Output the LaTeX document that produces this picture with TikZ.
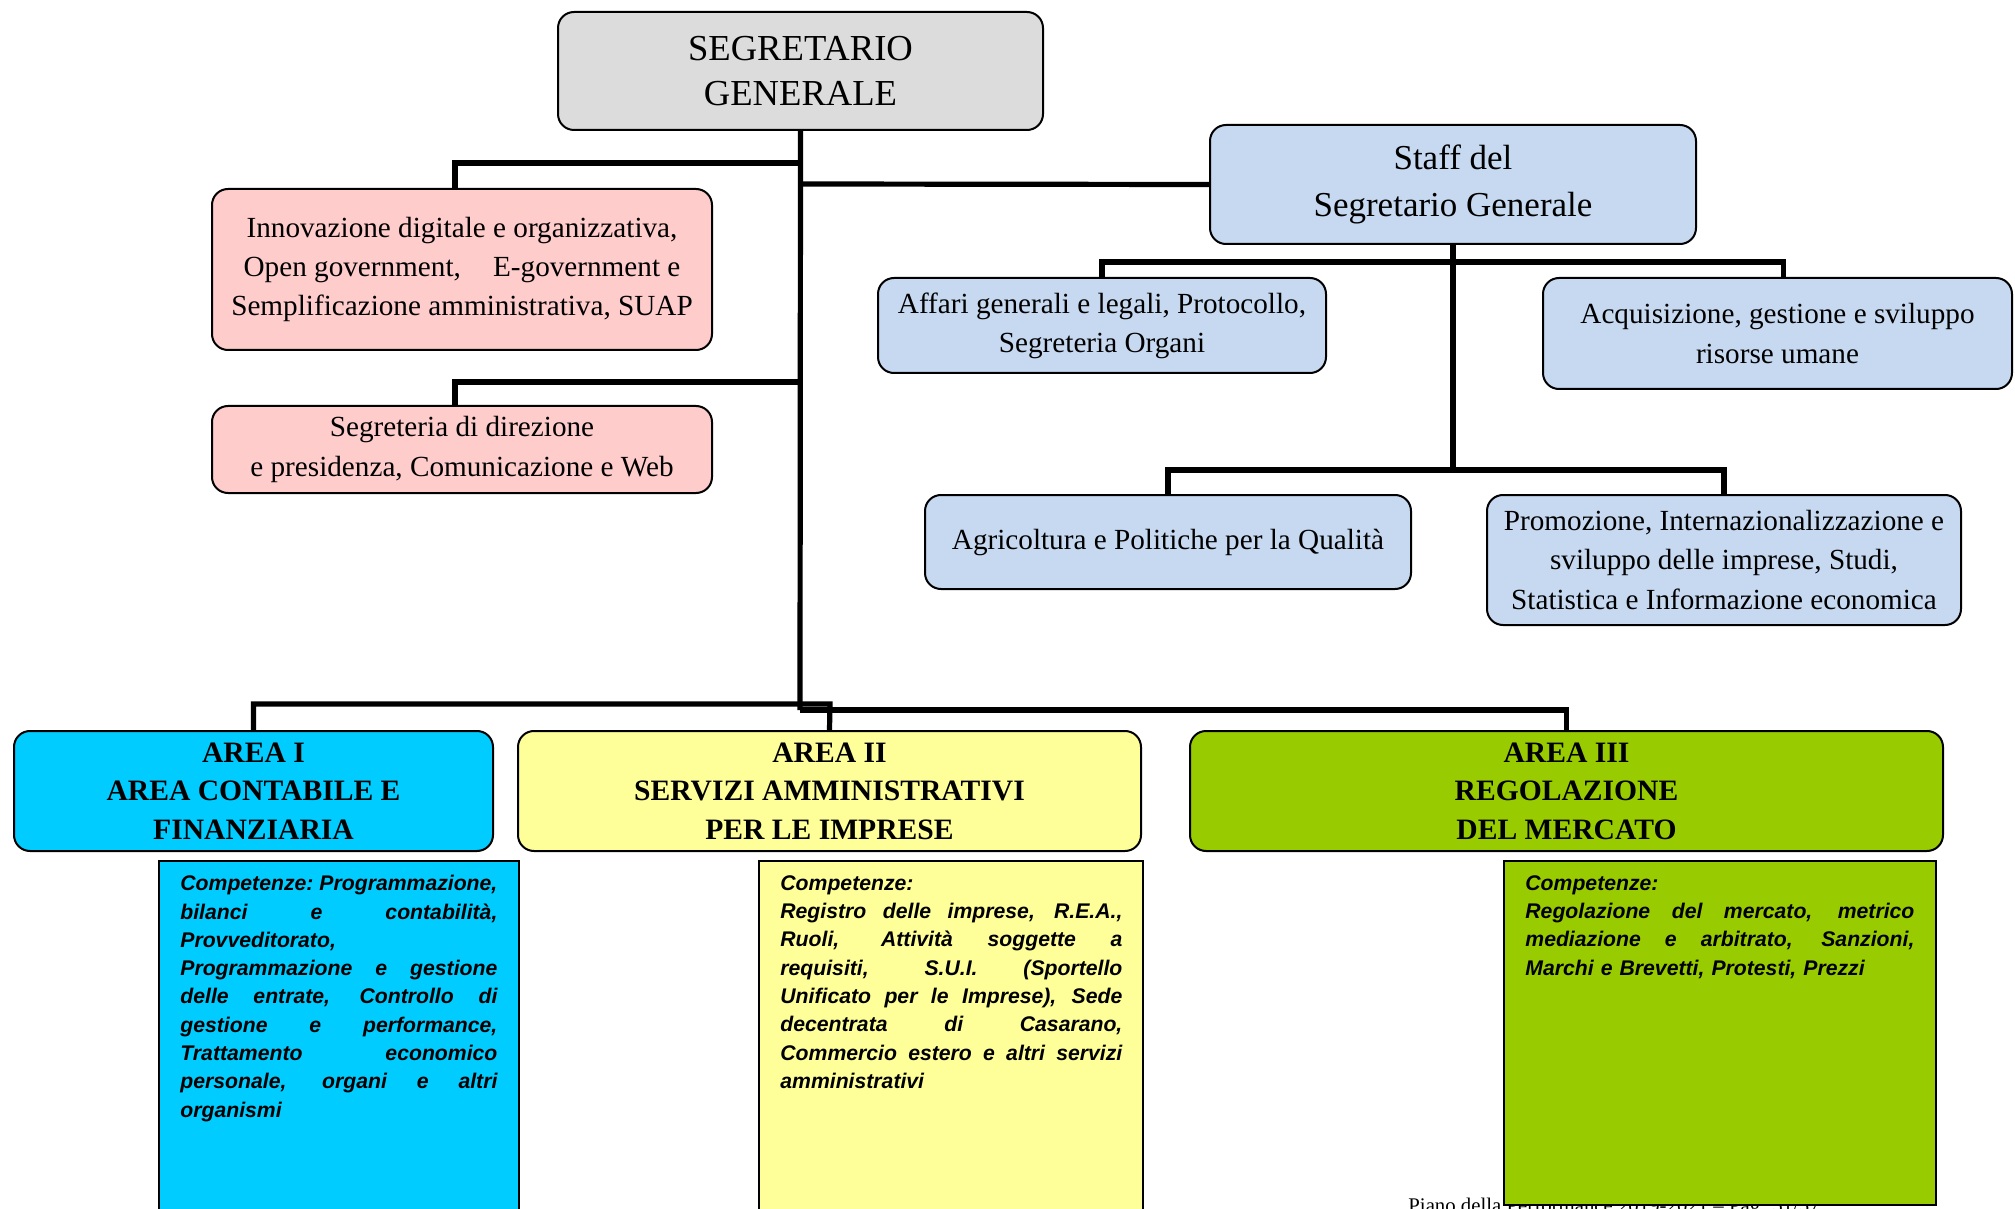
\documentclass[tikz,border=0pt]{standalone}
\usepackage{fontspec}
\setmainfont{Liberation Serif}
\newfontfamily\arialf{Liberation Sans}
\definecolor{sggray}{HTML}{DCDCDC}
\definecolor{pinkb}{HTML}{FFCCCC}
\definecolor{blueb}{HTML}{C6D9F1}
\definecolor{cyanb}{HTML}{00CCFF}
\definecolor{yellb}{HTML}{FFFF99}
\definecolor{greenb}{HTML}{99CC00}
\newlength{\jlw}
\newcommand{\jl}[1]{\makebox[\jlw][s]{\spaceskip=0.278em plus 1fil\xspaceskip=0.278em plus 1fil #1}}
\begin{document}
\begin{tikzpicture}[x=0.5pt,y=-0.5pt,
  box/.style={draw=black, line width=1pt, rounded corners=8pt, align=center, inner sep=0pt},
  sgfont/.style={font=\fontsize{18.3}{23.8}\selectfont},
  bigfont/.style={font=\fontsize{17.5}{23.8}\selectfont},
  midfont/.style={font=\fontsize{14.6}{19.6}\selectfont},
  areafont/.style={font=\bfseries\fontsize{14.8}{19.3}\selectfont},
  conn/.style={line width=2.6pt},
  compbox/.style={draw=black, line width=0.8pt, inner sep=0pt, anchor=north west},
  comptext/.style={font=\arialf\bfseries\itshape\fontsize{10.6}{14.15}\selectfont, align=left, inner sep=0pt, anchor=north west}]
\useasboundingbox (0,0) rectangle (2015,1209);

% footer (partly hidden by the green box)
\node[font=\fontsize{10.4}{12}\selectfont, anchor=base west, inner sep=0pt] (foot) at (1408,1212) {Piano della Performance 2019-2021 – Pag. 51/57};

% top
\node[box, fill=sggray, sgfont, minimum width=242.5pt, minimum height=59pt] (sg) at (800.5,71) {SEGRETARIO\\[-1pt]GENERALE};
\node[box, fill=pinkb, midfont, minimum width=250pt, minimum height=80.5pt] (p1) at (462,269.5) {Innovazione digitale e organizzativa,\\Open government,\hspace{1.1em}E-government e\\Semplificazione amministrativa, SUAP};
\node[box, fill=pinkb, midfont, minimum width=250pt, minimum height=43.5pt] (p2) at (462,449.5) {Segreteria di direzione\\e presidenza, Comunicazione e Web};
\node[box, fill=blueb, bigfont, minimum width=243pt, minimum height=59.5pt] (staff) at (1453,184.5) {Staff del\\Segretario Generale};
\node[box, fill=blueb, midfont, minimum width=224pt, minimum height=47.5pt] (aff) at (1102,325.5) {Affari generali e legali, Protocollo,\\Segreteria Organi};
\node[box, fill=blueb, midfont, minimum width=234.5pt, minimum height=55.5pt] (acq) at (1777.5,333.5) {Acquisizione, gestione e sviluppo\\risorse umane};
\node[box, fill=blueb, midfont, minimum width=243pt, minimum height=47pt] (agri) at (1168,542) {Agricoltura e Politiche per la Qualità};
\node[box, fill=blueb, midfont, minimum width=237pt, minimum height=65pt] (promo) at (1724,560) {Promozione, Internazionalizzazione e\\sviluppo delle imprese, Studi,\\Statistica e Informazione economica};

% areas
\node[box, fill=cyanb, areafont, minimum width=239.5pt, minimum height=60pt] (a1) at (253.5,791) {\raisebox{-2pt}{AREA I}\\\raisebox{-2pt}{AREA CONTABILE E}\\\raisebox{-2pt}{FINANZIARIA}};
\node[box, fill=yellb, areafont, minimum width=311.5pt, minimum height=60pt] (a2) at (829.5,791) {\raisebox{-2pt}{AREA II}\\\raisebox{-2pt}{SERVIZI AMMINISTRATIVI}\\\raisebox{-2pt}{PER LE IMPRESE}};
\node[box, fill=greenb, areafont, minimum width=376.5pt, minimum height=60pt] (a3) at (1566.5,791) {\raisebox{-2pt}{AREA III}\\\raisebox{-2pt}{REGOLAZIONE}\\\raisebox{-2pt}{DEL MERCATO}};

% competence boxes
\node[compbox, fill=cyanb, minimum width=180pt, minimum height=190pt] (c1) at (158,860) {};
\node[compbox, fill=yellb, minimum width=192pt, minimum height=190pt] (c2) at (758,860) {};
\node[compbox, fill=greenb, minimum width=216pt, minimum height=172pt] (c3) at (1503,860) {};

\node[comptext, text width=158.5pt] (t1) at (180,875) {\setlength{\jlw}{158.5pt}\jl{Competenze: Programmazione,}\\\jl{bilanci e contabilità,}\\Provveditorato,\\\jl{Programmazione e gestione}\\\jl{delle entrate, Controllo di}\\\jl{gestione e performance,}\\\jl{Trattamento economico}\\\jl{personale, organi e altri}\\organismi};
\node[comptext, text width=171pt] (t2) at (780,875) {\setlength{\jlw}{171pt}Competenze:\\\jl{Registro delle imprese, R.E.A.,}\\\jl{Ruoli, Attività soggette a}\\\jl{requisiti, S.U.I. (Sportello}\\\jl{Unificato per le Imprese), Sede}\\\jl{decentrata di Casarano,}\\\jl{Commercio estero e altri servizi}\\amministrativi};
\node[comptext, text width=194.5pt] (t3) at (1525,875) {\setlength{\jlw}{194.5pt}Competenze:\\\jl{Regolazione del mercato, metrico}\\\jl{mediazione e arbitrato, Sanzioni,}\\Marchi e Brevetti, Protesti, Prezzi};

% connectors
\coordinate (j1) at (800,163);
\coordinate (j2) at (800,382);
\coordinate (j3) at (800,184);
\coordinate (jb) at (800,710);
\coordinate (jl) at (830,704);
\coordinate (s1) at (1453,262);
\coordinate (s2) at (1453,470);
\draw[conn] (sg.south) -- (jb);
\draw[conn] (j1) -| ([xshift=-3.5pt]p1.north);
\draw[conn] (j2) -| ([xshift=-3.5pt]p2.north);
\draw[conn] (j3) -- (staff.west);
\draw[conn] (staff.south) -- (s2);
\draw[conn] (aff.north) |- (s1) -| ([xshift=3pt]acq.north);
\draw[conn] (agri.north) |- (s2) -| (promo.north);
\draw[conn] (a2.north) -- (jl) -| (a1.north);
\draw[conn] (jb) -| (a3.north);
\end{tikzpicture}
\end{document}
